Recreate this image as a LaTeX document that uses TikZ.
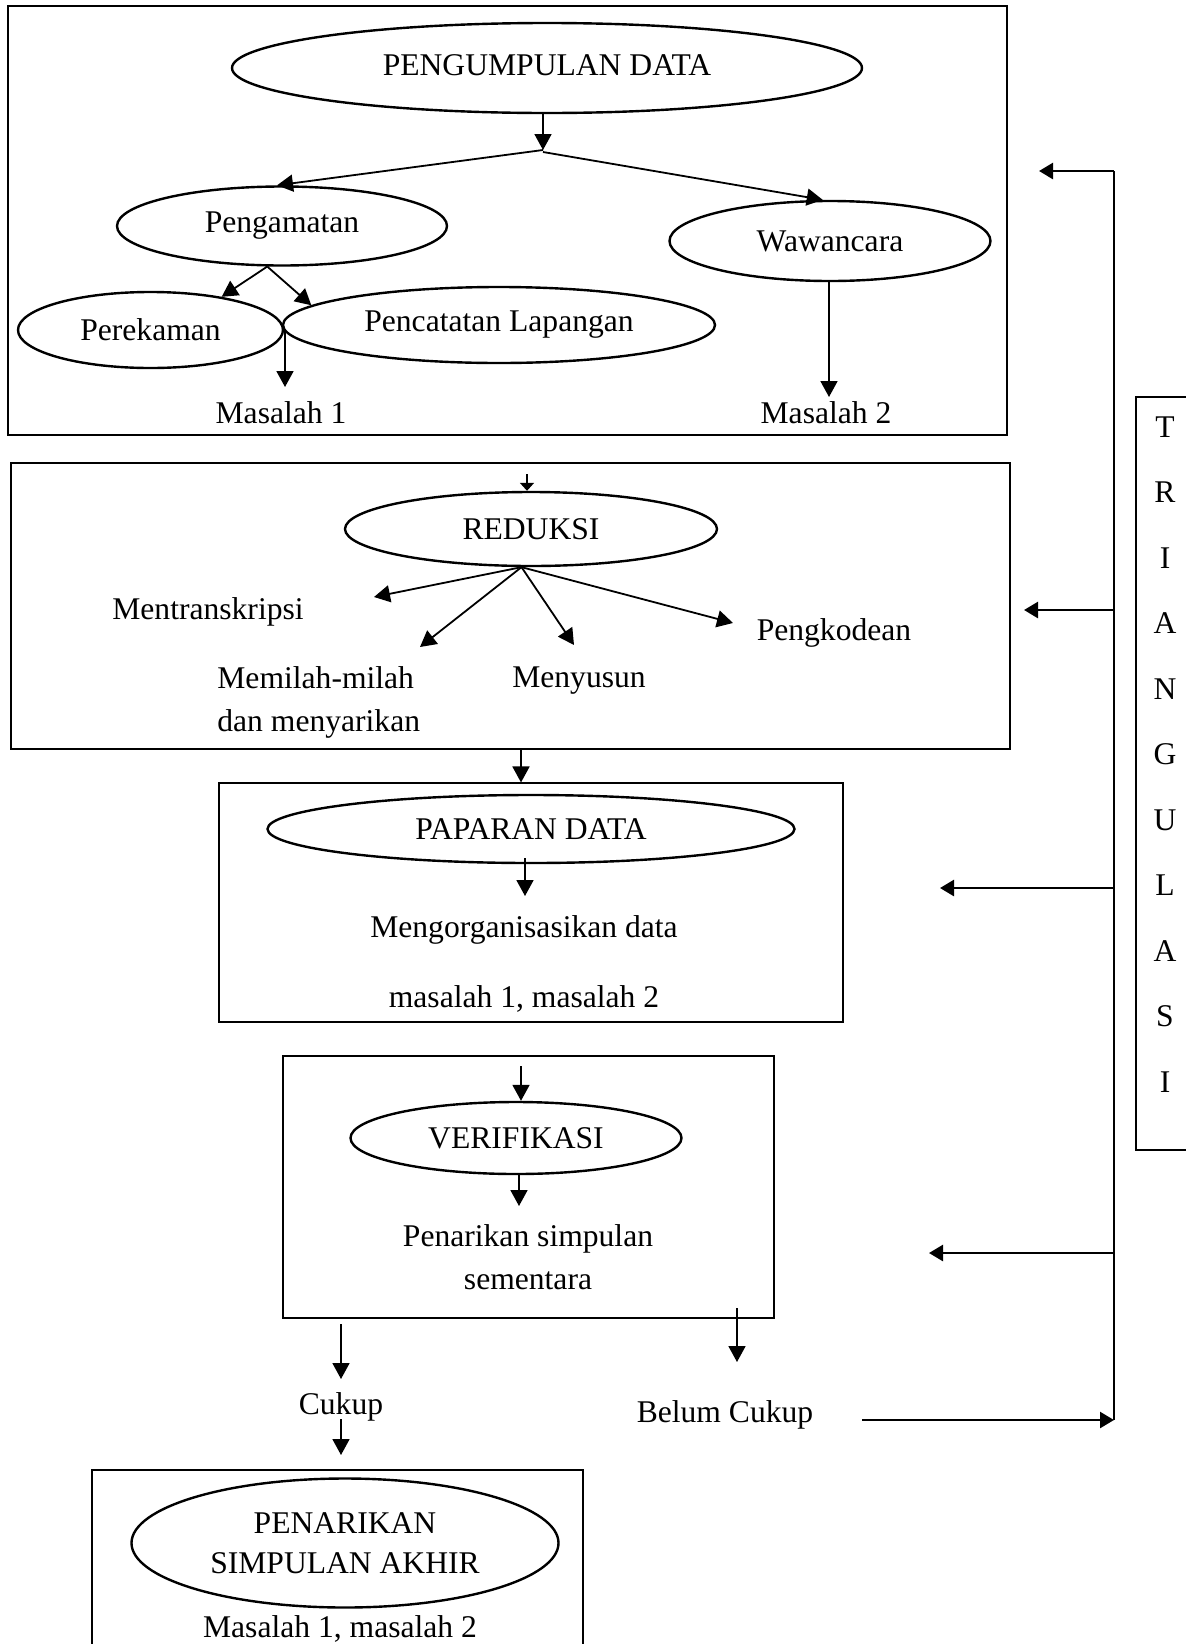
\documentclass[tikz,border=0pt]{standalone}
\usepackage{fontspec}
\setmainfont{Liberation Serif}
\usetikzlibrary{shapes.geometric,arrows.meta}
\begin{document}
\begin{tikzpicture}[x=0.5pt,y=-0.5pt,
  font=\fontsize{15.8}{21.5}\selectfont,
  ell/.style={draw, ellipse, line width=1.2pt, inner sep=0pt},
  box/.style={draw, rectangle, line width=0.55pt, inner sep=0pt},
  lbl/.style={anchor=base, inner sep=0pt},
  arr/.style={line width=0.9pt, -{Triangle[length=8pt,width=8.5pt]}},
  smallarr/.style={line width=0.9pt, -{Triangle[length=4pt,width=7pt]}},
  tharr/.style={line width=1.3pt, -{Triangle[length=7pt,width=8pt]}},
  thin/.style={line width=0.6pt}]
\path[use as bounding box, fill=white] (0,0) rectangle (1186,1644);

% ---------- boxes ----------
\node[box, minimum width=499.5pt, minimum height=214.5pt] (b1) at (507.5,220.5) {};
\node[box, minimum width=499.5pt, minimum height=143pt] (b2) at (510.5,606) {};
\node[box, minimum width=312pt, minimum height=119.5pt] (b3) at (531,902.5) {};
\node[box, minimum width=245.5pt, minimum height=131pt] (b4) at (528.5,1187) {};
\node[box, minimum width=245.5pt, minimum height=115pt] (b5) at (337.5,1585) {};
\node[box, minimum width=64pt, minimum height=376.5pt] (tri) at (1200,773.5) {};

% ---------- ellipses ----------
\node[ell, minimum width=315pt, minimum height=45pt] (pd) at (547,68) {\raisebox{2.5pt}{PENGUMPULAN DATA}};
\node[ell, minimum width=165pt, minimum height=39.5pt] (peng) at (282,226) {Pengamatan};
\node[ell, minimum width=160.5pt, minimum height=40pt] (waw) at (830,241) {Wawancara};
\node[ell, minimum width=132.5pt, minimum height=38pt] (perek) at (150.5,330) {Perekaman};
\node[ell, minimum width=216pt, minimum height=38pt] (penc) at (499,325) {Pencatatan Lapangan};
\node[ell, minimum width=186pt, minimum height=37pt] (red) at (531,529) {REDUKSI};
\node[ell, minimum width=263.5pt, minimum height=34pt] (pap) at (531,829) {\raisebox{-1.5pt}{PAPARAN DATA}};
\node[ell, minimum width=165.5pt, minimum height=36pt] (ver) at (516,1138) {VERIFIKASI};
\node[ell, minimum width=213.5pt, minimum height=64.5pt, align=center] (akhir) at (345,1543) {PENARIKAN\\[-1.5pt]SIMPULAN AKHIR};

% ---------- labels ----------
\node[lbl] (m1) at (281,423) {Masalah 1};
\node[lbl] (m2) at (826,423) {Masalah 2};
\node[lbl] (mtr) at (208,619) {Mentranskripsi};
\node[lbl] (pkd) at (834,640) {Pengkodean};
\node[lbl, anchor=base west, align=left] (mem) at (217,731) {Memilah-milah\\dan menyarikan};
\node[lbl] (mny) at (579,687) {Menyusun};
\node[lbl] (morg) at (524,937) {Mengorganisasikan data};
\node[lbl] (mm) at (524,1007) {masalah 1, masalah 2};
\node[lbl, align=center] (pns) at (528,1289) {Penarikan simpulan\\sementara};
\node[lbl] (ck) at (341,1414) {Cukup};
\node[lbl] (bck) at (725,1422) {Belum Cukup};
\node[lbl] (mfin) at (340,1637) {Masalah 1, masalah 2};

% TRIANGULASI letters
\foreach \ch [count=\i from 0] in {T,R,I,A,N,G,U,L,A,S,I}
  \node[lbl] (tr\i) at (1165,437+65.5*\i) {\ch};

% ---------- coordinates ----------
\coordinate (j1) at (543,150);
\coordinate (j2) at (543,152);
\coordinate (t1) at (285,387);
\coordinate (t2) at (829,397);
\coordinate (r0) at (527,474);
\coordinate (rt1) at (374,597);
\coordinate (rt2) at (420,647);
\coordinate (rt3) at (574,645);
\coordinate (rt4) at (733,623);
\coordinate (a23) at (521,0);
\coordinate (pt) at (525,896);
\coordinate (v0) at (521,1066);
\coordinate (v1) at (519,1206);
\coordinate (bc0) at (737,1308);
\coordinate (bc1) at (737,1362);
\coordinate (c0) at (341,1324);
\coordinate (c1) at (341,1379);
\coordinate (c2) at (341,1419);
\coordinate (c3) at (341,1455);
\coordinate (vt) at (1114,171);
\coordinate (vb) at (1114,1420);
\coordinate (h1) at (1039,171);
\coordinate (h2) at (1024,610);
\coordinate (h3) at (940,888);
\coordinate (h4) at (929,1253);
\coordinate (bs) at (862,1420);

% ---------- connectors ----------
\draw[arr] (pd.south -| j1) -- (j1);
\draw[arr] (j1) -- (peng.97);
\draw[arr] (j2) -- (waw.100);
\draw[arr] (peng.250) -- (perek.25);
\draw[arr] (peng.250) -- (penc.174);
\draw[arr] (perek.east -| t1) -- (t1);
\draw[arr] (waw.south -| t2) -- (t2);

\draw[smallarr] (r0) -- (r0 |- red.north);
\draw[arr] (red.256) -- (rt1);
\draw[arr] (red.256) -- (rt2);
\draw[arr] (red.256) -- (rt3);
\draw[arr] (red.256) -- (rt4);

\draw[arr] (b2.south -| a23) -- (b3.north -| a23);
\draw[arr] (pap.south) ++(-3pt,3pt) -- (pt);

\draw[arr] (v0) -- (v0 |- ver.north);
\draw[arr] (ver.south -| v1) -- (v1);
\draw[arr] (bc0) -- (bc1);
\draw[arr] (c0) -- (c1);
\draw[arr] (c2) -- (c3);

% triangulasi feedback
\draw[thin] (vt) -- (vb);
\draw[tharr] (vt) -- (h1);
\draw[tharr] (vt |- h2) -- (h2);
\draw[tharr] (vt |- h3) -- (h3);
\draw[tharr] (vt |- h4) -- (h4);
\draw[tharr] (bs) -- (vb);
\end{tikzpicture}
\end{document}
